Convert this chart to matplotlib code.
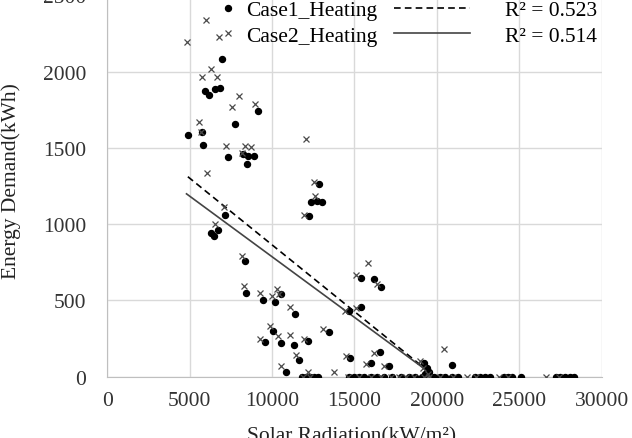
import numpy as np
import matplotlib
matplotlib.use("Agg")
import matplotlib.pyplot as plt
from matplotlib.lines import Line2D

# Case1 (dots) - solar radiation (kW/m2) and heating demand (kWh)
case1_x = [6972, 5915, 6179, 6524, 6850, 9146, 7785, 5772, 4898, 5793,
           7337, 8272, 8557, 8923, 8496, 12840, 12354, 12719, 13022, 12270,
           7166, 6296, 6498, 6720, 8340, 8441, 9433, 10567, 10202, 11377,
           10081, 10567, 11336, 9555, 12186, 11660, 10850,
           15405, 16194, 16619, 14696, 15405, 13461, 14737, 15992, 16559,
           17125, 20904, 19200, 19400, 19550, 19300,
           11800, 12050, 12300, 12550, 12800, 14700, 15000, 15300, 15600,
           16000, 16400, 16800, 17300, 17800, 18300, 18700, 19100, 19800,
           20200, 20500, 20900, 21300, 22300, 22600, 22900, 23200, 24100,
           24300, 24550, 25120, 27200, 27500, 27800, 28100, 28350]
case1_y = [2083, 1876, 1849, 1886, 1891, 1740, 1657, 1603, 1587, 1522,
           1441, 1458, 1450, 1450, 1397, 1262, 1148, 1154, 1148, 1052,
           1059, 945, 924, 961, 758, 546, 504, 544, 491, 410,
           301, 221, 210, 225, 236, 111, 33,
           648, 639, 588, 434, 456, 294, 122, 91, 162,
           73, 77, 90, 55, 30, 15,
           0, 0, 0, 0, 0, 0, 0, 0, 0,
           0, 0, 0, 0, 0, 0, 0, 0, 0,
           0, 0, 0, 0, 0, 0, 0, 0, 0,
           0, 0, 0, 0, 0, 0, 0, 0]

# Case2 (crosses)
case2_x = [4817, 5996, 6768, 6321, 5752, 6687, 8028, 7602, 8943, 5569,
           5691, 7215, 8394, 8699, 8200, 6057, 12050, 12555, 12616, 11948,
           7085, 6518, 8198, 8279, 9251, 10324, 10020, 10400, 11113, 9858,
           10364, 11073, 9271, 11923, 11437, 10547, 12200,
           15830, 15101, 16356, 14433, 15101, 13117, 14494, 15709, 16194,
           16822, 20422, 13745, 19000, 19150, 19450,
           11900, 12300, 14600, 15300, 16000, 16600, 17200, 17700, 18100,
           18600, 19200, 19500, 20200, 21000, 21830, 22400, 23775, 24300,
           26627, 27400]
case2_y = [2192, 2336, 2225, 2020, 1965, 1965, 1838, 1766, 1790, 1668,
           1603, 1513, 1515, 1509, 1470, 1338, 1559, 1279, 1183, 1060,
           1116, 1000, 793, 594, 552, 574, 531, 540, 454, 330,
           268, 273, 247, 247, 144, 68, 30,
           743, 666, 608, 434, 449, 312, 135, 86, 153,
           69, 184, 29, 100, 60, 20,
           0, 0, 0, 0, 0, 0, 0, 0, 0,
           0, 0, 0, 0, 0, 0, 0, 0, 0,
           0, 0]

# linear trendlines (slope, intercept) and R2 labels
trend1 = (-0.0875, 1740)
trend2 = (-0.0795, 1582)
labels = ["Case1_Heating", "Case2_Heating"]
r2_labels = ["R\u00b2 = 0.523", "R\u00b2 = 0.514"]

plt.rcParams['font.family'] = ['Liberation Serif', 'DejaVu Serif']
plt.rcParams['font.size'] = 15.5

W, H = 632, 439
fig = plt.figure(figsize=(W / 100, H / 100), dpi=100)
ax = fig.add_axes([107.1 / W, (H - 377.7) / H, 494.6 / W, 381.25 / H])

ax.plot(case1_x, case1_y, 'o', ms=4.3, color='black', zorder=3)
ax.plot(case2_x, case2_y, 'x', ms=4.0, mew=0.9, color='#4a4a4a', zorder=3)

xs1 = np.array([min(case1_x), max(case1_x)])
xs2 = np.array([min(case2_x), max(case2_x)])
ax.plot(xs1, trend1[0] * xs1 + trend1[1], color='black', lw=1.2,
        linestyle=(0, (4, 2.5)), zorder=2)
ax.plot(xs2, trend2[0] * xs2 + trend2[1], color='#444444', lw=1.2, zorder=2)

ax.set_xlim(0, 30000)
ax.set_ylim(0, 2500)
ax.set_xticks(np.arange(0, 30001, 5000))
ax.set_yticks(np.arange(0, 2501, 500))
ax.grid(True, color='#d9d9d9', lw=1)
ax.set_axisbelow(True)
for s in ['top', 'right']:
    ax.spines[s].set_visible(False)
for s in ['left', 'bottom']:
    ax.spines[s].set_color('#bfbfbf')
ax.tick_params(length=0, colors='#333333', labelsize=15.5)
ax.tick_params(axis='y', pad=15)
ax.tick_params(axis='x', pad=10)

ax.set_ylabel("Energy Demand(kWh)", color='#222222', fontsize=15.5)
ax.yaxis.set_label_coords(-0.174, 0.516)
ax.set_xlabel("Solar Radiation(kW/m\u00b2)", color='#222222', fontsize=15.5)
ax.xaxis.set_label_coords(0.495, -0.129)

mk = [Line2D([], [], marker='o', ms=4.3, color='black', ls='none'),
      Line2D([], [], marker='x', ms=4.0, mew=0.9, color='#4a4a4a', ls='none')]
leg1 = ax.legend(mk, labels, loc='upper left', frameon=False,
                 bbox_to_anchor=(219.4 / W, 1 - 1.0 / H),
                 bbox_transform=fig.transFigure,
                 borderpad=0, borderaxespad=0, handlelength=0.8,
                 handletextpad=0.44, labelspacing=0.25, fontsize=15.5)
ax.add_artist(leg1)
ln = [Line2D([], [], color='black', lw=1.2, linestyle=(0, (4, 2.5))),
      Line2D([], [], color='#444444', lw=1.2)]
ax.legend(ln, r2_labels, loc='upper left', frameon=False,
          bbox_to_anchor=(394.0 / W, 1 - 1.0 / H),
          bbox_transform=fig.transFigure,
          borderpad=0, borderaxespad=0, handlelength=3.53,
          handletextpad=1.63, labelspacing=0.25, fontsize=15.5)

fig.savefig("out.png", dpi=100)
